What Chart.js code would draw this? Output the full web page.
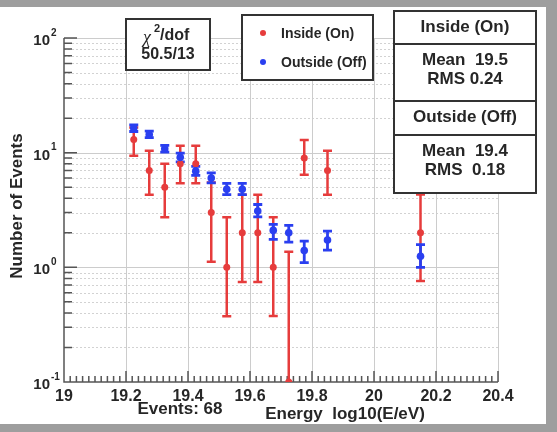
<!DOCTYPE html>
<html>
<head>
<meta charset="utf-8">
<script src="https://cdn.jsdelivr.net/npm/chart.js@4.4.1/dist/chart.umd.min.js"></script>
<style>
  body { margin: 0; background: #9e9e9e; }
  #sheet { position: absolute; left: 0; top: 7px; width: 546px; height: 417px; background: #fff; }
  #c { position: absolute; left: 0; top: 0; }
</style>
</head>
<body>
<div id="sheet"></div>
<canvas id="c" width="557" height="432"></canvas>
<script>
// energy bins, log10(E/eV)
const binCenters = [19.225, 19.275, 19.325, 19.375, 19.425, 19.475, 19.525, 19.575, 19.625, 19.675, 19.725, 19.775, 19.85, 20.15];

// inside (on) counts and error band
const insideCounts = [13, 7, 5, 8, 8, 3, 1, 2, 2, 1, 0, 9, 7, 2];
const insideLow = [9.4, 4.3, 2.74, 5.4, 5.4, 1.12, 0.375, 0.745, 0.745, 0.377, 0, 6.43, 4.3, 0.76];
const insideHigh = [16.6, 10.4, 8.0, 11.5, 11.5, 5.5, 2.74, 4.3, 4.3, 2.74, 1.37, 12.9, 10.4, 4.31];

// outside (off), scaled
const outsideCounts = [16.4, 14.4, 10.8, 9.1, 6.9, 6.0, 4.8, 4.8, 3.1, 2.1, 2.0, 1.4, 1.73, 1.25];
const outsideLow = [15.3, 13.5, 10.1, 8.3, 6.35, 5.45, 4.3, 4.3, 2.76, 1.75, 1.66, 1.1, 1.41, 1.0];
const outsideHigh = [17.5, 15.4, 11.6, 9.9, 7.6, 6.66, 5.4, 5.4, 3.53, 2.37, 2.32, 1.69, 2.07, 1.58];

const xTickValues = [19, 19.2, 19.4, 19.6, 19.8, 20, 20.2, 20.4];
const xTickLabels = ['19', '19.2', '19.4', '19.6', '19.8', '20', '20.2', '20.4'];
const yDecades = [-1, 0, 1, 2];

const statsInside = ['Mean  19.5', 'RMS 0.24'];
const statsOutside = ['Mean  19.4', 'RMS  0.18'];

const X_MIN = 19, X_MAX = 20.4, Y_MIN = 0.1, Y_MAX = 100;
const RED = '#e63c3c';
const BLUE = '#2a3ff0';
const INK = '#262626';
const FONT = '"Liberation Sans", Arial, sans-serif';

function points(vals) {
  return binCenters.map((x, i) => ({ x: x, y: Math.max(vals[i], Y_MIN) }));
}

function errorBars(ctx, xs, ys, lo, hi, color, width) {
  ctx.save();
  ctx.strokeStyle = color;
  ctx.lineWidth = width;
  for (let i = 0; i < binCenters.length; i++) {
    const px = xs.getPixelForValue(binCenters[i]);
    const top = ys.getPixelForValue(hi[i]);
    const bottom = ys.getPixelForValue(Math.max(lo[i], Y_MIN));
    ctx.beginPath();
    ctx.moveTo(px, top);
    ctx.lineTo(px, bottom);
    ctx.moveTo(px - 4.5, top);
    ctx.lineTo(px + 4.5, top);
    if (lo[i] > Y_MIN) {
      ctx.moveTo(px - 4.5, bottom);
      ctx.lineTo(px + 4.5, bottom);
    }
    ctx.stroke();
  }
  ctx.restore();
}

function box(ctx, x1, y1, x2, y2) {
  ctx.fillStyle = '#fff';
  ctx.fillRect(x1, y1, x2 - x1, y2 - y1);
  ctx.strokeStyle = '#333';
  ctx.lineWidth = 2;
  ctx.strokeRect(x1, y1, x2 - x1, y2 - y1);
}

const framePlugin = {
  id: 'frame',
  beforeDatasetsDraw(chart) {
    const { ctx, chartArea: a, scales: { x, y } } = chart;
    ctx.save();

    // horizontal grid: dotted at 2..9, solid at decades
    ctx.strokeStyle = '#d2d2d2';
    ctx.lineWidth = 1;
    ctx.setLineDash([2, 2]);
    for (let d = -1; d < 2; d++) {
      for (let m = 2; m <= 9; m++) {
        const py = Math.round(y.getPixelForValue(m * Math.pow(10, d))) + 0.5;
        ctx.beginPath();
        ctx.moveTo(a.left, py);
        ctx.lineTo(a.right, py);
        ctx.stroke();
      }
    }
    ctx.setLineDash([]);
    ctx.strokeStyle = '#cccccc';
    yDecades.slice(1).forEach(d => {
      const py = Math.round(y.getPixelForValue(Math.pow(10, d))) + 0.5;
      ctx.beginPath();
      ctx.moveTo(a.left, py);
      ctx.lineTo(a.right, py);
      ctx.stroke();
    });
    xTickValues.slice(1).forEach(v => {
      const px = Math.round(x.getPixelForValue(v)) + 0.5;
      ctx.beginPath();
      ctx.moveTo(px, a.top);
      ctx.lineTo(px, a.bottom);
      ctx.stroke();
    });

    // axes with inward ticks
    ctx.strokeStyle = '#555';
    ctx.lineWidth = 1.5;
    ctx.beginPath();
    ctx.moveTo(a.left, a.top);
    ctx.lineTo(a.left, a.bottom);
    ctx.lineTo(a.right, a.bottom);
    for (let d = -1; d < 2; d++) {
      for (let m = 2; m <= 9; m++) {
        const py = y.getPixelForValue(m * Math.pow(10, d));
        ctx.moveTo(a.left, py);
        ctx.lineTo(a.left + 8, py);
      }
    }
    yDecades.forEach(d => {
      const py = y.getPixelForValue(Math.pow(10, d));
      ctx.moveTo(a.left, py);
      ctx.lineTo(a.left + 13, py);
    });
    for (let k = 0; k <= 70; k++) {
      const px = x.getPixelForValue(X_MIN + k * 0.02);
      const len = k % 10 === 0 ? 11 : 6;
      ctx.moveTo(px, a.bottom);
      ctx.lineTo(px, a.bottom - len);
    }
    ctx.stroke();

    // tick labels
    ctx.fillStyle = INK;
    ctx.textBaseline = 'middle';
    ctx.textAlign = 'center';
    ctx.font = 'bold 16px ' + FONT;
    xTickValues.forEach((v, i) => {
      ctx.fillText(xTickLabels[i], x.getPixelForValue(v), a.bottom + 15);
    });
    yDecades.forEach(d => {
      const py = y.getPixelForValue(Math.pow(10, d));
      ctx.textAlign = 'right';
      ctx.font = 'bold 15px ' + FONT;
      ctx.fillText('10', 50, py + 3);
      ctx.textAlign = 'left';
      ctx.font = 'bold 10px ' + FONT;
      ctx.fillText(String(d), 51, py - 5);
    });

    // error bars under the markers
    errorBars(ctx, x, y, insideLow, insideHigh, RED, 2.5);
    errorBars(ctx, x, y, outsideLow, outsideHigh, BLUE, 2.8);
    ctx.restore();
  },
  afterDatasetsDraw(chart) {
    const ctx = chart.ctx;
    ctx.save();
    ctx.fillStyle = INK;
    ctx.textBaseline = 'middle';

    // axis titles
    ctx.font = 'bold 17px ' + FONT;
    ctx.textAlign = 'center';
    ctx.fillText('Events: 68', 180, 409);
    ctx.fillText('Energy  log10(E/eV)', 345, 414);
    ctx.save();
    ctx.translate(17, 206);
    ctx.rotate(-Math.PI / 2);
    ctx.fillText('Number of Events', 0, 0);
    ctx.restore();

    // chi-square box
    box(ctx, 126, 19, 210, 70);
    ctx.fillStyle = INK;
    ctx.textAlign = 'left';
    ctx.font = 'italic 18px "Liberation Serif", "DejaVu Serif", serif';
    ctx.fillText('\u03c7', 143, 38);
    ctx.font = 'bold 11px ' + FONT;
    ctx.fillText('2', 154, 29);
    ctx.font = 'bold 16px ' + FONT;
    ctx.fillText('/dof', 160, 36);
    ctx.textAlign = 'center';
    ctx.fillText('50.5/13', 168, 55);

    // legend box
    box(ctx, 242, 15, 373, 80);
    ctx.fillStyle = RED;
    ctx.beginPath();
    ctx.arc(263, 33, 3, 0, Math.PI * 2);
    ctx.fill();
    ctx.fillStyle = BLUE;
    ctx.beginPath();
    ctx.arc(263, 62, 3, 0, Math.PI * 2);
    ctx.fill();
    ctx.fillStyle = INK;
    ctx.textAlign = 'left';
    ctx.font = 'bold 14px ' + FONT;
    ctx.fillText(chart.data.datasets[1].label, 281, 34);
    ctx.fillText(chart.data.datasets[0].label, 281, 63);

    // statistics box
    box(ctx, 394, 11, 536, 193);
    ctx.beginPath();
    [44, 101, 135].forEach(yy => {
      ctx.moveTo(394, yy);
      ctx.lineTo(536, yy);
    });
    ctx.stroke();
    ctx.fillStyle = INK;
    ctx.textAlign = 'center';
    ctx.font = 'bold 17px ' + FONT;
    ctx.fillText('Inside (On)', 465, 27);
    ctx.fillText(statsInside[0], 465, 60);
    ctx.fillText(statsInside[1], 465, 79);
    ctx.fillText('Outside (Off)', 465, 117);
    ctx.fillText(statsOutside[0], 465, 151);
    ctx.fillText(statsOutside[1], 465, 170);
    ctx.restore();
  }
};

new Chart(document.getElementById('c'), {
  type: 'scatter',
  data: {
    datasets: [
      {
        label: 'Outside (Off)',
        data: points(outsideCounts),
        backgroundColor: BLUE,
        borderColor: BLUE,
        pointRadius: 3.8,
        pointBorderWidth: 0
      },
      {
        label: 'Inside (On)',
        data: points(insideCounts),
        backgroundColor: RED,
        borderColor: RED,
        pointRadius: 3.5,
        pointBorderWidth: 0
      }
    ]
  },
  options: {
    responsive: false,
    animation: false,
    events: [],
    layout: { padding: { left: 64, right: 59, top: 38, bottom: 50 } },
    plugins: { legend: { display: false }, tooltip: { enabled: false } },
    scales: {
      x: { type: 'linear', min: X_MIN, max: X_MAX, display: false },
      y: { type: 'logarithmic', min: Y_MIN, max: Y_MAX, display: false }
    }
  },
  plugins: [framePlugin]
});
</script>
</body>
</html>
